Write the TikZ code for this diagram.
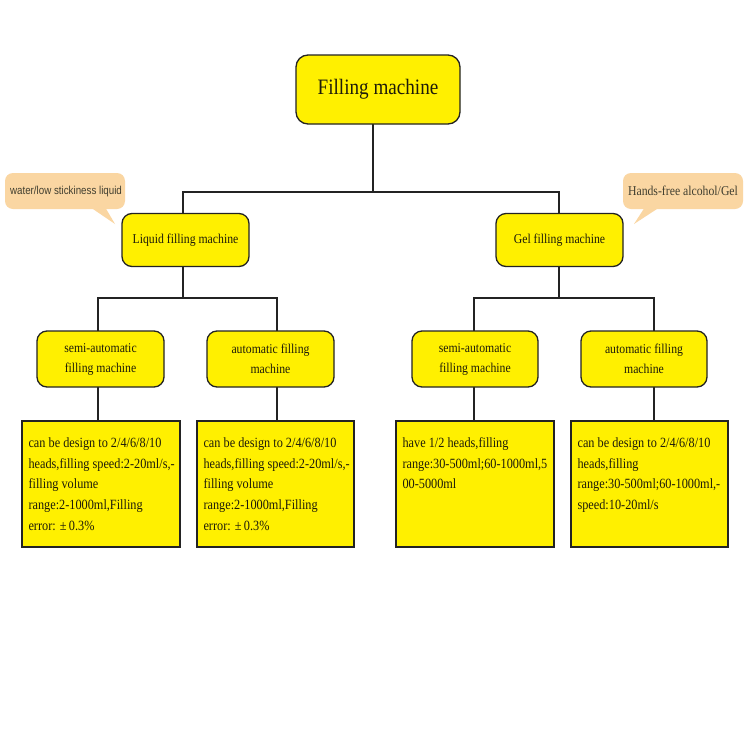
\documentclass[tikz,border=0pt]{standalone}
\usepackage{fontspec}
\setmainfont[FakeStretch=0.87]{Liberation Serif}
\newfontfamily\calsans[FakeStretch=0.85]{Liberation Sans}
\definecolor{boxy}{RGB}{255,240,0}
\definecolor{peach}{RGB}{250,214,162}
\definecolor{txt}{RGB}{30,28,10}
\definecolor{edge}{RGB}{35,35,35}
\begin{document}
\begin{tikzpicture}[x=1pt,y=-1pt,
  rbox/.style={draw=edge, line width=1.3pt, fill=boxy, rounded corners=10pt, inner sep=0pt,
    align=center, text=txt, font=\fontsize{13.5}{20}\selectfont},
  dbox/.style={draw=edge, line width=1.3pt, fill=boxy, inner sep=0pt},
  dtext/.style={anchor=north west, inner sep=0pt, align=left, text=txt,
    font=\fontsize{14.1}{20.7}\selectfont},
  calbox/.style={fill=peach, rounded corners=8pt, inner sep=0pt, minimum width=120pt,
    minimum height=36pt},
  caltext/.style={anchor=base, inner sep=0pt, text=txt!85!white},
  conn/.style={draw=edge, line width=1.3pt},
]
\useasboundingbox (0,0) rectangle (750,750);
\fill[white] (0,0) rectangle (750,750);

% callouts
\node[calbox] (c1) at (65,191) {};
\fill[peach] (90,207) -- (105,207) -- (115,224) -- cycle;
\node[caltext, font=\calsans\fontsize{11.5}{14}\selectfont] (c1t) at (66,194) {water/low stickiness liquid};
\node[calbox] (c2) at (683,191) {};
\fill[peach] (645,207) -- (660,207) -- (634,224) -- cycle;
\node[caltext, font=\fontsize{13.5}{16}\selectfont] (c2t) at (683,195) {Hands-free alcohol/Gel};

% junction coordinates
\coordinate (j1) at (373,192);
\coordinate (j2) at (183,298);
\coordinate (j3) at (559,298);

% connectors (drawn first, boxes on top)
\draw[conn] (373,124) -- (j1);
\draw[conn] (183,214) |- (j1) -| (559,214);
\draw[conn] (183,266) -- (j2);
\draw[conn] (98,331) |- (j2) -| (277,331);
\draw[conn] (559,266) -- (j3);
\draw[conn] (474,331) |- (j3) -| (654,331);
\draw[conn] (98,387) -- (98,421);
\draw[conn] (277,387) -- (277,421);
\draw[conn] (474,387) -- (474,421);
\draw[conn] (654,387) -- (654,421);

% boxes
\node[rbox, rounded corners=12pt, minimum width=164pt, minimum height=69pt,
  font=\fontsize{22}{26}\selectfont] (top) at (378,89.5) {Filling machine};
\node[rbox, minimum width=127pt, minimum height=53pt] (liq) at (185.5,240) {Liquid filling machine};
\node[rbox, minimum width=127pt, minimum height=53pt] (gel) at (559.5,240) {Gel filling machine};

\node[rbox, minimum width=127pt, minimum height=56pt] (s1) at (100.5,359) {semi-automatic\\filling machine};
\node[rbox, minimum width=127pt, minimum height=56pt] (a1) at (270.5,359) {automatic filling\\machine};
\node[rbox, minimum width=126pt, minimum height=56pt] (s2) at (475,359) {semi-automatic\\filling machine};
\node[rbox, minimum width=126pt, minimum height=56pt] (a2) at (644,359) {automatic filling\\machine};

\node[dbox, minimum width=158pt, minimum height=126pt] (d1) at (101,484) {};
\node[dbox, minimum width=157pt, minimum height=126pt] (d2) at (275.5,484) {};
\node[dbox, minimum width=158pt, minimum height=126pt] (d3) at (475,484) {};
\node[dbox, minimum width=157pt, minimum height=126pt] (d4) at (649.5,484) {};

\node[dtext] (d1t) at ([xshift=7pt,yshift=-17pt]d1.north west)
  {can be design to 2/4/6/8/10\\heads,filling speed:2-20ml/s,-\\filling volume\\range:2-1000ml,Filling\\error: ±\,0.3\%};
\node[dtext] (d2t) at ([xshift=7pt,yshift=-17pt]d2.north west)
  {can be design to 2/4/6/8/10\\heads,filling speed:2-20ml/s,-\\filling volume\\range:2-1000ml,Filling\\error: ±\,0.3\%};
\node[dtext] (d3t) at ([xshift=7pt,yshift=-17pt]d3.north west)
  {have 1/2 heads,filling\\range:30-500ml;60-1000ml,5\\00-5000ml};
\node[dtext] (d4t) at ([xshift=7pt,yshift=-17pt]d4.north west)
  {can be design to 2/4/6/8/10\\heads,filling\\range:30-500ml;60-1000ml,-\\speed:10-20ml/s};
\end{tikzpicture}
\end{document}
